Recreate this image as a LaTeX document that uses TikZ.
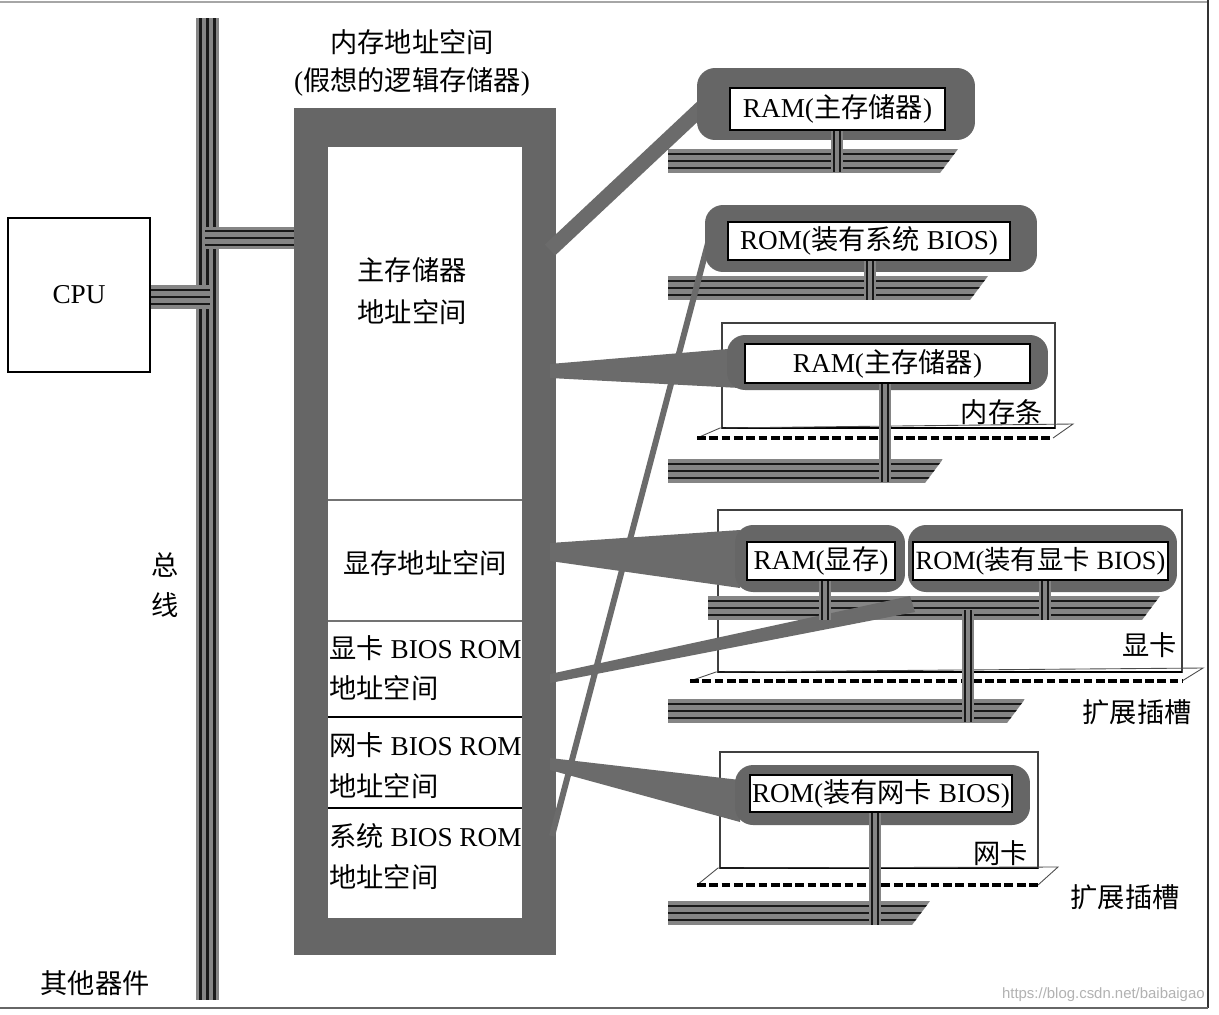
\documentclass[tikz,border=0pt]{standalone}
\usepackage{fontspec}
\setmainfont{Liberation Serif}
\newfontfamily\cjkfont{Noto Sans CJK SC}
\newfontfamily\wmfont{Liberation Sans}
\newcommand\zh[1]{{\cjkfont #1}}
\definecolor{blobgray}{gray}{0.40}
\definecolor{bandgray}{gray}{0.42}
\definecolor{busgray}{gray}{0.52}
\tikzset{
  busline/.style={black!90, line width=1.5pt},
  blob/.style={fill=blobgray, rounded corners=0.36cm, inner sep=0pt, draw=none},
  chip/.style={fill=white, draw=black, line width=1.3pt, inner sep=0pt},
  card/.style={draw=black!75, line width=0.6pt},
  lbl/.style={inner sep=0pt},
  conn/.style={fill=bandgray},
  slotedge/.style={draw=black!70, line width=0.5pt},
  slotdash/.style={draw=black, line width=2.6pt, dash pattern=on 5pt off 2pt},
}
% horizontal bus: x1 x2 yc
\newcommand\hbus[3]{%
  \begin{scope}
    \clip (#1,{#3-12}) -- (#2,{#3-12}) -- ({#2-18},{#3+12}) -- (#1,{#3+12}) -- cycle;
    \fill[busgray] (#1,{#3-12}) rectangle (#2,{#3+12});
    \foreach \dy in {-7,0,7} \draw[busline] (#1,{#3+\dy}) -- (#2,{#3+\dy});
  \end{scope}}
% vertical stem: x y1 y2
\newcommand\vstem[3]{%
  \fill[busgray] ({#1-6},#2) rectangle ({#1+6},#3);
  \draw[busline] ({#1-3},#2) -- ({#1-3},#3);
  \draw[busline] ({#1+3},#2) -- ({#1+3},#3);}
\begin{document}
\begin{tikzpicture}[x=0.02cm,y=-0.02cm,font=\fontsize{15.5}{18}\selectfont]
\useasboundingbox (0,0) rectangle (1219,1014);
\fill[white] (0,0) rectangle (1219,1014);
% frame
\draw[black!35, line width=0.6pt] (0,2) -- (1208,2);
\draw[black!80, line width=1.2pt] (1208,0) -- (1208,1008);
\draw[black!60, line width=0.8pt] (0,1008) -- (1208,1008);

% main system bus
\fill[busgray] (196,18) rectangle (219,1000);
\foreach \bx in {200.5,207.5,214.5} \draw[busline] (\bx,18) -- (\bx,1000);

% CPU
\node[draw=black, line width=1.3pt, minimum width=2.84cm, minimum height=3.08cm, fill=white] (cpu) at (79,295) {CPU};
\fill[busgray] (cpu.east |- 0,285) rectangle (210,309);
\foreach \by in {290,297,304} \draw[busline] (cpu.east |- 0,\by) -- (210,\by);

% memory address space block
\node[fill=blobgray, minimum width=5.24cm, minimum height=16.94cm, inner sep=0pt] (mem) at (425,531.5) {};
\fill[white] (328,147) rectangle (522,918);
\draw[black!55, line width=1.6pt] (328,500) -- (522,500);
\draw[black!55, line width=1.6pt] (328,621) -- (522,621);
\draw[black, line width=0.9pt] (328,717) -- (522,717);
\draw[black, line width=0.9pt] (328,808) -- (522,808);
\fill[busgray] (205,227) rectangle (mem.west |- 0,249);
\foreach \by in {231,238,245} \draw[busline] (205,\by) -- (mem.west |- 0,\by);

% cards
\draw[card] (722,323) rectangle (1055,428);
\draw[black, line width=1.6pt] (722,428) -- (1055,428);
\draw[card] (718,510) rectangle (1182,672);
\draw[black, line width=1.6pt] (718,672) -- (1182,672);
\draw[card] (720,752) rectangle (1038,868);
\draw[black, line width=1.6pt] (720,868) -- (1038,868);

% slots
\draw[slotedge] (697,438) -- (720,428) -- (1073,424) -- (1053,438);
\draw[slotdash] (697,438) -- (1053,438);
\draw[slotedge] (690,681) -- (716,672) -- (1203,668) -- (1182,681);
\draw[slotdash] (690,681) -- (1182,681);
\draw[slotedge] (697,885) -- (718,868) -- (1058,867) -- (1038,885);
\draw[slotdash] (697,885) -- (1038,885);

% buses on the right
\hbus{668}{958}{161}
\hbus{668}{988}{288}
\hbus{668}{943}{471}
\hbus{708}{1160}{608}
\hbus{668}{1025}{711}
\hbus{668}{930}{913}

% connectors from address space to devices
\coordinate (mMain1) at (550,250);
\coordinate (mSys) at (552,836);
\coordinate (dRam1) at (712,98);
\coordinate (dRom1) at (712,228);
\draw[bandgray, line width=8.5pt] (mMain1) -- (dRam1);
\draw[bandgray, line width=3.4pt] (mSys) -- (dRom1);
\fill[conn] (550,364) -- (550,378) -- (740,388) -- (740,348) -- cycle;
\fill[conn] (550,543) -- (550,561) -- (740,588) -- (740,530) -- cycle;
\fill[conn] (550,674) -- (550,683) -- (915,612) -- (910,596) -- cycle;
\fill[conn] (550,758) -- (550,770) -- (740,822) -- (740,780) -- cycle;

% device blobs
\node[blob, minimum width=5.56cm, minimum height=1.44cm] (b1) at (836,104) {};
\node[blob, minimum width=6.64cm, minimum height=1.34cm] (b2) at (871,238.5) {};
\node[blob, minimum width=6.42cm, minimum height=1.1cm] (b3) at (887.5,362.5) {};
\node[blob, minimum width=3.4cm, minimum height=1.34cm] (b4a) at (820,558.5) {};
\node[blob, minimum width=5.38cm, minimum height=1.34cm] (b4b) at (1042.5,558.5) {};
\node[blob, minimum width=5.9cm, minimum height=1.2cm] (b5) at (882.5,795) {};

% stems
\vstem{837}{130}{172}
\vstem{870}{260}{300}
\vstem{885}{383}{482}
\vstem{825}{580}{620}
\vstem{1045}{580}{620}
\vstem{968}{610}{722}
\vstem{875}{812}{925}

% chips
\node[chip, minimum width=4.3cm, minimum height=0.84cm] (c1) at (837.5,109) {RAM(\zh{主存储器})};
\node[chip, minimum width=5.64cm, minimum height=0.76cm] (c2) at (869,241) {ROM(\zh{装有系统} BIOS)};
\node[chip, minimum width=5.7cm, minimum height=0.78cm] (c3) at (887.5,363.5) {RAM(\zh{主存储器})};
\node[chip, minimum width=2.96cm, minimum height=0.76cm] (c4a) at (821,561) {RAM(\zh{显存})};
\node[chip, minimum width=5.1cm, minimum height=0.76cm, font=\fontsize{15}{18}\selectfont] (c4b) at (1040.5,561) {ROM(\zh{装有显卡} BIOS)};
\node[chip, minimum width=5.24cm, minimum height=0.74cm] (c5) at (881,793.5) {ROM(\zh{装有网卡} BIOS)};

% labels
\node[lbl] (t1) at (412,42) {\zh{内存地址空间}};
\node[lbl] (t2) at (412,82) {(\zh{假想的逻辑存储器})};
\node[lbl] (s1a) at (412,270) {\zh{主存储器}};
\node[lbl] (s1b) at (412,312) {\zh{地址空间}};
\node[lbl] (s2) at (425,563) {\zh{显存地址空间}};
\node[lbl, anchor=west] (s3a) at (329,648) {\zh{显卡} BIOS ROM};
\node[lbl, anchor=west] (s3b) at (329,688) {\zh{地址空间}};
\node[lbl, anchor=west] (s4a) at (329,745) {\zh{网卡} BIOS ROM};
\node[lbl, anchor=west] (s4b) at (329,786) {\zh{地址空间}};
\node[lbl, anchor=west] (s5a) at (329,836) {\zh{系统} BIOS ROM};
\node[lbl, anchor=west] (s5b) at (329,877) {\zh{地址空间}};
\node[lbl] (z1) at (165,565) {\zh{总}};
\node[lbl] (z2) at (165,605) {\zh{线}};
\node[lbl] (other) at (95,983) {\zh{其他器件}};
\node[lbl, anchor=east] (k1) at (1043,412) {\zh{内存条}};
\node[lbl, anchor=east] (k2) at (1177,645) {\zh{显卡}};
\node[lbl, anchor=east] (k3) at (1028,853) {\zh{网卡}};
\node[lbl, anchor=east] (x1) at (1192,712) {\zh{扩展插槽}};
\node[lbl, anchor=east] (x2) at (1180,897) {\zh{扩展插槽}};
\node[lbl, anchor=east, text=black!30, font=\wmfont\fontsize{8.5}{10}\selectfont] (wm) at (1205,995) {https://blog.csdn.net/baibaigao};
\end{tikzpicture}
\end{document}
